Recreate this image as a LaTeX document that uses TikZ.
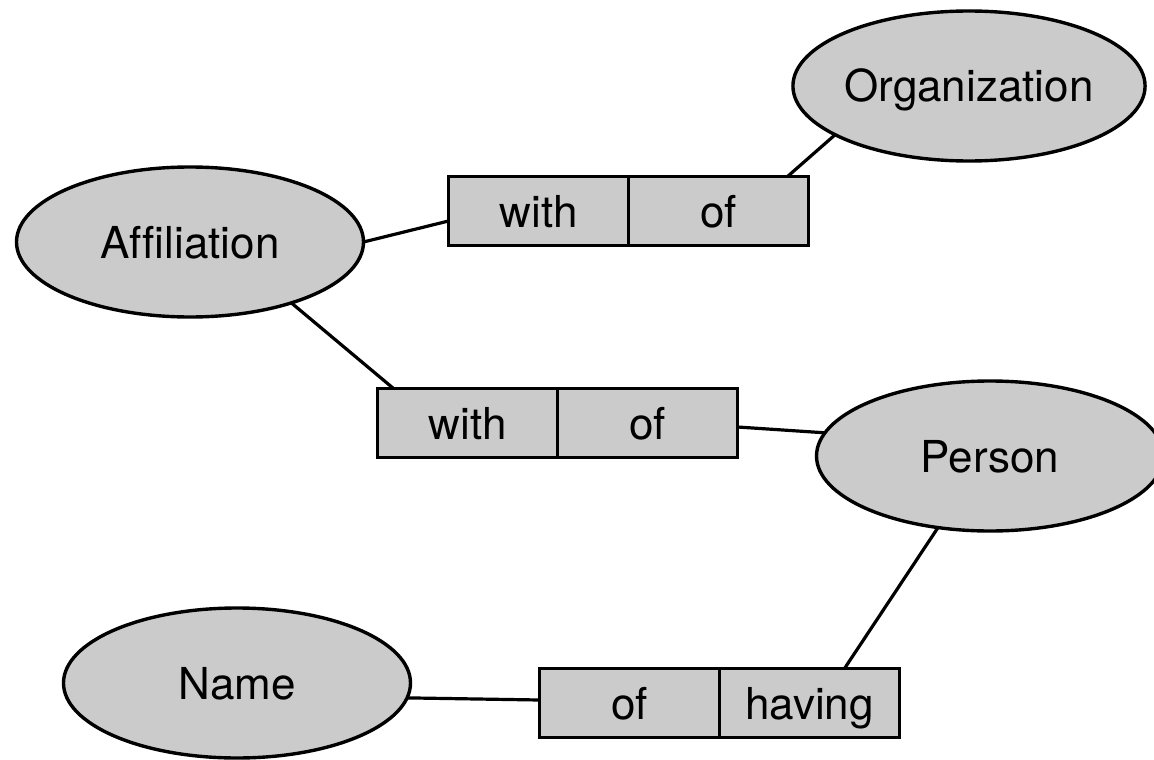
\documentclass[tikz,border=0pt]{standalone}
\usepackage{fontspec}
\setmainfont{TeX Gyre Heros}[Ligatures=NoCommon]
\usetikzlibrary{shapes.geometric,positioning,calc}
\definecolor{shade}{RGB}{203,203,203}
\tikzset{
  entity/.style={ellipse, draw=black, fill=shade, line width=3.4pt,
    minimum width=347pt, minimum height=150pt, inner sep=0pt, outer sep=0pt,
    text height=32pt, text depth=0pt,
    font=\fontsize{44}{52}\selectfont},
  role/.style={rectangle, draw=black, fill=shade, line width=3.4pt,
    minimum width=180pt, minimum height=69pt, inner sep=0pt, outer sep=0pt,
    text height=32pt, text depth=0pt,
    font=\fontsize{44}{52}\selectfont},
  link/.style={line width=3.2pt, draw=black}
}
\begin{document}
\begin{tikzpicture}[x=1pt, y=-1pt]
  \useasboundingbox (0,0) rectangle (1154,760);
  \clip (0,0) rectangle (1154,760);

  % entities
  \node[entity] (org) at (969,86)  {Organization};
  \node[entity] (aff) at (190,242) {Affiliation};
  \node[entity] (per) at (990,456) {Person};
  \node[entity] (nm)  at (237,683) {Name};

  % relation boxes, each in two halves sharing the middle edge
  \node[role] (b1a) at (538.5,211) {with};
  \node[role, anchor=west] (b1b) at (b1a.east) {of};

  \node[role] (b2a) at (467.5,423) {with};
  \node[role, anchor=west] (b2b) at (b2a.east) {of};

  \node[role] (b3a) at (629.5,703) {of};
  \node[role, anchor=west] (b3b) at (b3a.east) {having};

  % connectors
  \draw[link] (aff.east) -- ($(b1a.west)+(0,10)$);
  \draw[link] (org.200) -- ($(b1b.north east)+(-21,0)$);
  \draw[link] (aff.-31) -- ($(b2a.north west)+(16,0)$);
  \draw[link] ($(b2b.east)+(0,4)$) -- (per.172);
  \draw[link] (per.234) -- ($(b3b.north east)+(-55,0)$);
  \draw[link] (nm.-5) -- ($(b3a.west)+(0,-3)$);
\end{tikzpicture}
\end{document}
